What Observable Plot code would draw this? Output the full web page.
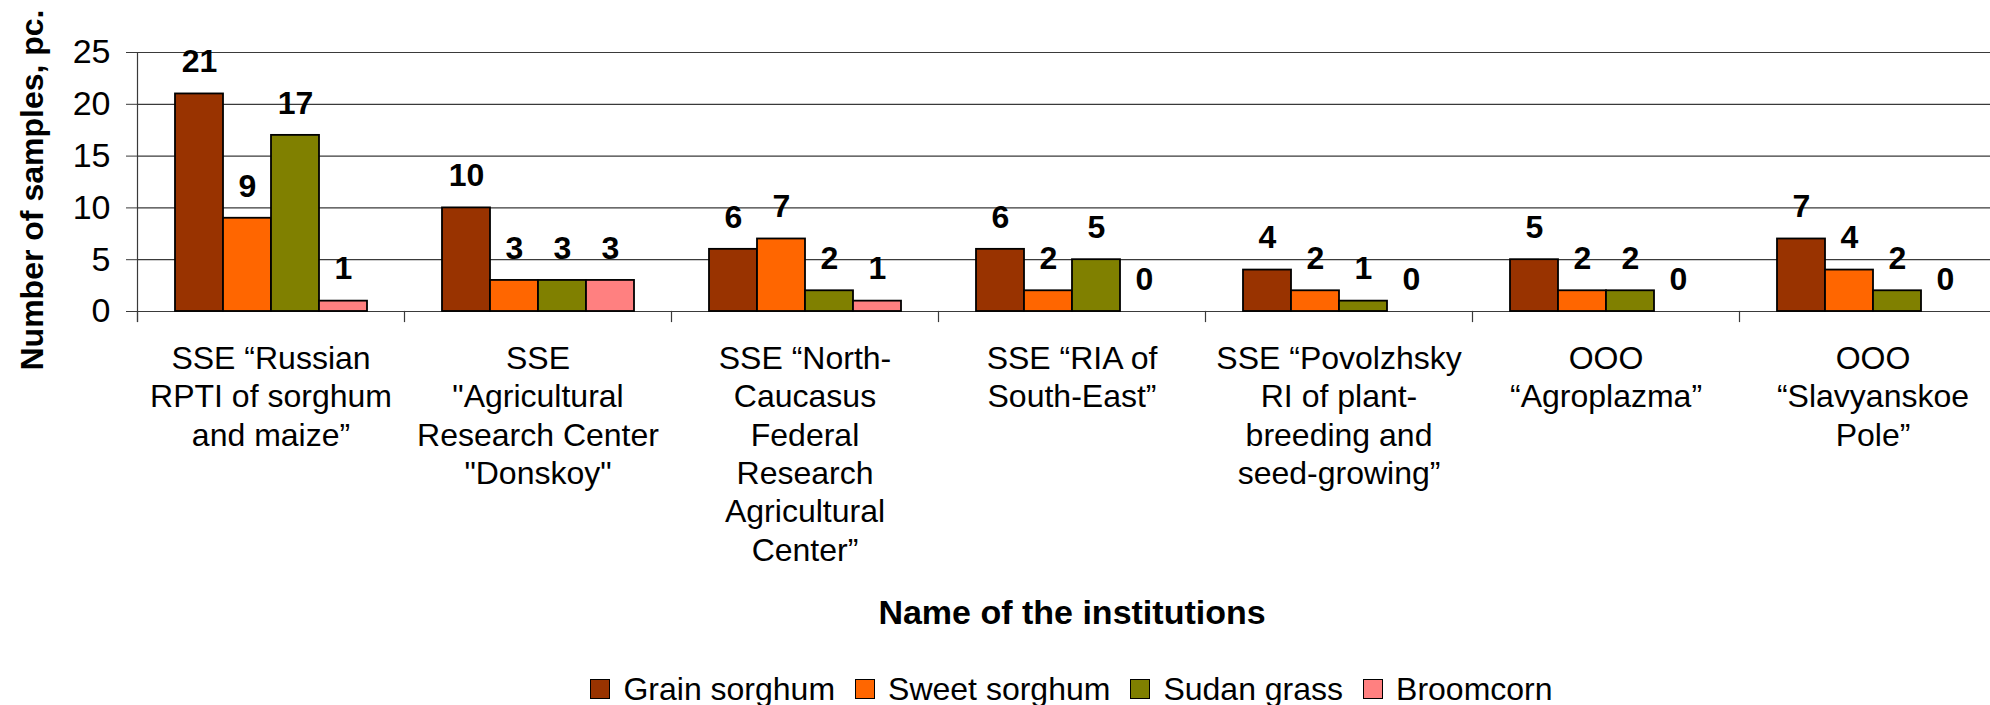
<!DOCTYPE html>
<html>
<head>
<meta charset="utf-8">
<script src="https://cdn.jsdelivr.net/npm/d3@7"></script>
<script src="https://cdn.jsdelivr.net/npm/@observablehq/plot@0.6"></script>
<style>
  html, body { margin: 0; padding: 0; background: #fff; overflow: hidden; width: 1990px; height: 705px; }
  #chart { position: absolute; left: 0; top: 0; width: 2008px; }
  #chart svg g[aria-label="fx-axis label"] text { font-weight: bold; font-size: 34px; }
  #legend { position: absolute; left: 135px; top: 669px; width: 1873px; height: 40px;
    display: flex; justify-content: center; align-items: center;
    font-family: "Liberation Sans", Arial, sans-serif; font-size: 32px; color: #000; }
  .item { display: flex; align-items: center; margin: 0 10px; }
  .sw { width: 18px; height: 18px; border: 1.5px solid #000; margin-right: 13px; }
</style>
</head>
<body>
<div id="chart"></div>
<div id="legend"></div>
<script>
// ---- data ----
const institutions = [
  "SSE “Russian RPTI of sorghum and maize”",
  "SSE \"Agricultural Research Center \"Donskoy\"",
  "SSE “North-Caucasus Federal Research Agricultural Center”",
  "SSE “RIA of South-East”",
  "SSE “Povolzhsky RI of plant-breeding and seed-growing”",
  "OOO “Agroplazma”",
  "OOO “Slavyanskoe Pole”"
];
const institutionLabels = [
  "SSE “Russian\nRPTI of sorghum\nand maize”",
  "SSE\n\"Agricultural\nResearch Center\n\"Donskoy\"",
  "SSE “North-\nCaucasus\nFederal\nResearch\nAgricultural\nCenter”",
  "SSE “RIA of\nSouth-East”",
  "SSE “Povolzhsky\nRI of plant-\nbreeding and\nseed-growing”",
  "OOO\n“Agroplazma”",
  "OOO\n“Slavyanskoe\nPole”"
];
const types = ["Grain sorghum", "Sweet sorghum", "Sudan grass", "Broomcorn"];
const grainSorghum = [21, 10, 6, 6, 4, 5, 7];
const sweetSorghum = [9, 3, 7, 2, 2, 2, 4];
const sudanGrass   = [17, 3, 2, 5, 1, 2, 2];
const broomcorn    = [1, 3, 1, 0, 0, 0, 0];
const colors = ["#993300", "#FF6600", "#808000", "#FF8080"];
const yTicks = [0, 5, 10, 15, 20, 25];
const yTitle = "Number of samples, pc.";
const xTitle = "Name of the institutions";

// ---- table ----
const series = [grainSorghum, sweetSorghum, sudanGrass, broomcorn];
const rows = [];
institutions.forEach((inst, i) => {
  types.forEach((t, k) => rows.push({inst, type: t, value: series[k][i]}));
});
const labelOf = new Map(institutions.map((d, i) => [d, institutionLabels[i]]));

// ---- layout ----
const H = 640, plotTop = 52, zeroY = 311;

const chart = Plot.plot({
  width: 2008,
  height: H,
  marginLeft: 135,
  marginRight: 0,
  marginTop: plotTop,
  marginBottom: H - zeroY,
  style: {fontFamily: "'Liberation Sans', Arial, sans-serif", fontSize: "32px", color: "#000", background: "#fff", maxWidth: "none", height: H + "px"},
  fx: {domain: institutions, padding: 0},
  x: {domain: types, paddingInner: 0, paddingOuter: 0.75, axis: null},
  y: {domain: [0, 25]},
  color: {domain: types, range: colors},
  marks: [
    Plot.gridY(yTicks, {stroke: "#3a3a3a", strokeOpacity: 1, strokeWidth: 1.2}),
    Plot.frame({anchor: "left", insetTop: zeroY - plotTop, insetBottom: -10, stroke: "#3a3a3a", strokeWidth: 1.2}),
    Plot.frame({anchor: "left", fx: () => institutions[0], insetBottom: -10, stroke: "#3a3a3a", strokeWidth: 1.2}),
    Plot.barY(rows.filter(d => d.value > 0), {fx: "inst", x: "type", y: "value", fill: "type", stroke: "#000", strokeWidth: 1.8}),
    Plot.text(rows, {fx: "inst", x: "type", y: "value", text: d => String(d.value), dy: -32, fontWeight: "bold", fontSize: 32}),
    Plot.axisY({ticks: yTicks, tickSize: 11, tickPadding: 16, label: null, stroke: "#3a3a3a", fontSize: 34}),
    Plot.text([yTitle], {fx: () => institutions[0], frameAnchor: "left", textAnchor: "middle", lineAnchor: "middle", rotate: -90, dx: -105, dy: 8, fontWeight: "bold", fontSize: 32}),
    Plot.axisFx({anchor: "bottom", tickSize: 0, tickPadding: 30, lineHeight: 1.2, fontSize: 32,
      tickFormat: d => labelOf.get(d), label: xTitle, labelAnchor: "center", labelOffset: 312})
  ]
});
document.getElementById("chart").appendChild(chart);

// ---- legend ----
const legend = document.getElementById("legend");
types.forEach((t, k) => {
  const it = document.createElement("div");
  it.className = "item";
  const sw = document.createElement("div");
  sw.className = "sw";
  sw.style.background = colors[k];
  const lb = document.createElement("span");
  lb.textContent = t;
  it.appendChild(sw); it.appendChild(lb);
  legend.appendChild(it);
});
</script>
</body>
</html>
